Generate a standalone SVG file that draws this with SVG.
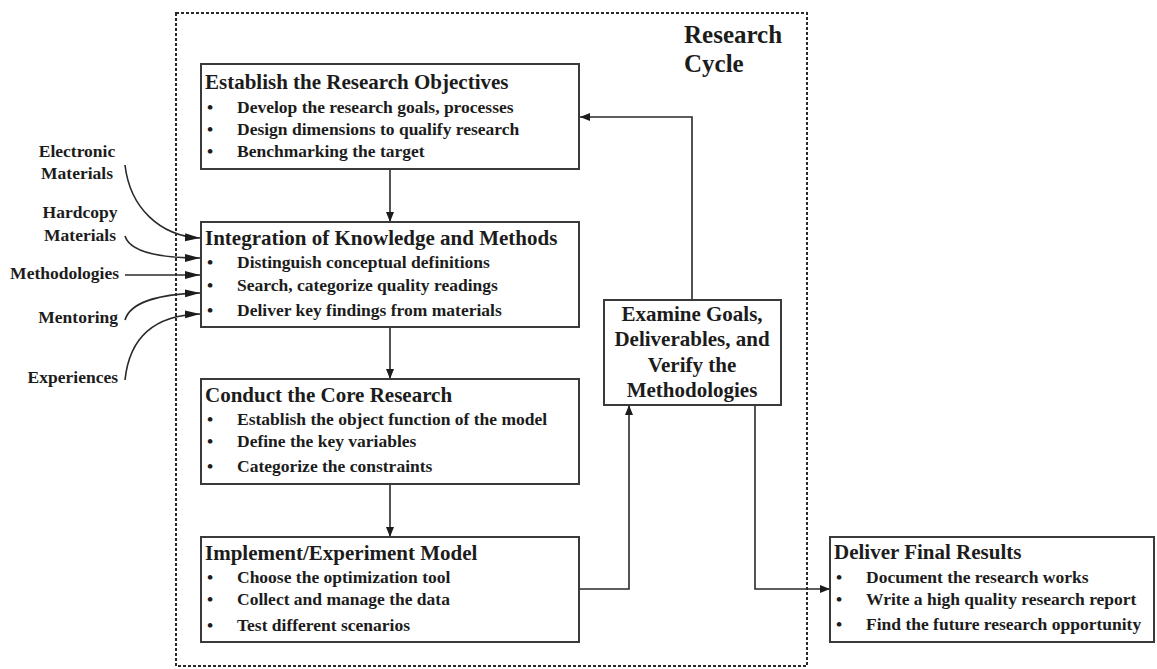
<svg xmlns="http://www.w3.org/2000/svg" width="1157" height="669" viewBox="0 0 1157 669">
  <style>
    .box { fill: #ffffff; stroke: #3a3a3a; stroke-width: 2; }
    .frame { fill: none; stroke: #2a2a2a; stroke-width: 2; stroke-dasharray: 3 2; }
    .wire { fill: none; stroke: #2a2a2a; stroke-width: 1.6; }
    text { font-family: "Liberation Serif", "Times New Roman", serif; font-weight: bold; fill: #1c1c1c; }
    .title { font-size: 21px; }
    .item { font-size: 17.5px; }
    .label { font-size: 17.5px; }
    .cycle { font-size: 25px; }
    .mid { font-size: 21px; text-anchor: middle; }
  </style>
  <defs>
    <marker id="head" markerUnits="userSpaceOnUse" markerWidth="12" markerHeight="10" refX="10" refY="4" orient="auto">
      <path d="M0,0 L10,4 L0,8 z" fill="#1c1c1c"/>
    </marker>
    <marker id="inlet" markerUnits="userSpaceOnUse" markerWidth="16" markerHeight="10" refX="15" refY="4" orient="auto">
      <path d="M0,0 L15,4 L0,8 z" fill="#1c1c1c"/>
    </marker>
  </defs>

  <rect width="1157" height="669" fill="#ffffff"/>

  <!-- research cycle frame -->
  <g id="research-cycle">
    <rect class="frame" x="176" y="13" width="631" height="653"/>
    <text class="cycle" x="684" y="43">Research</text>
    <text class="cycle" x="684" y="72">Cycle</text>
  </g>

  <!-- connectors -->
  <g id="connectors">
    <path class="wire" d="M390,169 L390,222" marker-end="url(#head)"/>
    <path class="wire" d="M390,327 L390,379" marker-end="url(#head)"/>
    <path class="wire" d="M390,484 L390,537" marker-end="url(#head)"/>
    <path class="wire" d="M579,589 L629,589 L629,405" marker-end="url(#head)"/>
    <path class="wire" d="M692,300 L692,117 L580,117" marker-end="url(#head)"/>
    <path class="wire" d="M755,405 L755,589 L830,589" marker-end="url(#head)"/>
    <!-- inputs feeding the integration step -->
    <path class="wire" d="M125,165 C130,208 160,236 200,238" marker-end="url(#inlet)"/>
    <path class="wire" d="M125,236 C130,252 160,258 200,258" marker-end="url(#inlet)"/>
    <path class="wire" d="M125,275 L200,275" marker-end="url(#inlet)"/>
    <path class="wire" d="M125,320 C130,302 160,294 200,293" marker-end="url(#inlet)"/>
    <path class="wire" d="M125,380 C130,332 160,315 200,314" marker-end="url(#inlet)"/>
  </g>

  <!-- input labels -->
  <g id="input-electronic">
    <text class="label" x="77" y="157" text-anchor="middle">Electronic</text>
    <text class="label" x="77" y="179" text-anchor="middle">Materials</text>
  </g>
  <g id="input-hardcopy">
    <text class="label" x="80" y="218" text-anchor="middle">Hardcopy</text>
    <text class="label" x="80" y="241" text-anchor="middle">Materials</text>
  </g>
  <g id="input-methodologies">
    <text class="label" x="119" y="279" text-anchor="end">Methodologies</text>
  </g>
  <g id="input-mentoring">
    <text class="label" x="118" y="323" text-anchor="end">Mentoring</text>
  </g>
  <g id="input-experiences">
    <text class="label" x="118" y="383" text-anchor="end">Experiences</text>
  </g>

  <!-- process steps -->
  <g id="establish-objectives">
    <rect class="box" x="201" y="64" width="378" height="105"/>
    <text class="title" x="205" y="89">Establish the Research Objectives</text>
    <text class="item" x="207" y="113">•</text>
    <text class="item" x="237" y="113">Develop the research goals, processes</text>
    <text class="item" x="207" y="135">•</text>
    <text class="item" x="237" y="135">Design dimensions to qualify research</text>
    <text class="item" x="207" y="157">•</text>
    <text class="item" x="237" y="157">Benchmarking the target</text>
  </g>

  <g id="integration">
    <rect class="box" x="201" y="222" width="378" height="105"/>
    <text class="title" x="205" y="245">Integration of Knowledge and Methods</text>
    <text class="item" x="207" y="268">•</text>
    <text class="item" x="237" y="268">Distinguish conceptual definitions</text>
    <text class="item" x="207" y="291">•</text>
    <text class="item" x="237" y="291">Search, categorize quality readings</text>
    <text class="item" x="207" y="316">•</text>
    <text class="item" x="237" y="316">Deliver key findings from materials</text>
  </g>

  <g id="core-research">
    <rect class="box" x="201" y="379" width="378" height="105"/>
    <text class="title" x="205" y="402">Conduct the Core Research</text>
    <text class="item" x="207" y="425">•</text>
    <text class="item" x="237" y="425">Establish the object function of the model</text>
    <text class="item" x="207" y="447">•</text>
    <text class="item" x="237" y="447">Define the key variables</text>
    <text class="item" x="207" y="472">•</text>
    <text class="item" x="237" y="472">Categorize the constraints</text>
  </g>

  <g id="implement-model">
    <rect class="box" x="201" y="537" width="378" height="105"/>
    <text class="title" x="205" y="560">Implement/Experiment Model</text>
    <text class="item" x="207" y="583">•</text>
    <text class="item" x="237" y="583">Choose the optimization tool</text>
    <text class="item" x="207" y="605">•</text>
    <text class="item" x="237" y="605">Collect and manage the data</text>
    <text class="item" x="207" y="631">•</text>
    <text class="item" x="237" y="631">Test different scenarios</text>
  </g>

  <g id="examine-verify">
    <rect class="box" x="604" y="300" width="177" height="105"/>
    <text class="mid" x="692" y="321">Examine Goals,</text>
    <text class="mid" x="692" y="346">Deliverables, and</text>
    <text class="mid" x="692" y="372">Verify the</text>
    <text class="mid" x="692" y="397">Methodologies</text>
  </g>

  <g id="deliver-results">
    <rect class="box" x="830" y="537" width="324" height="105"/>
    <text class="title" x="834" y="559">Deliver Final Results</text>
    <text class="item" x="836" y="583">•</text>
    <text class="item" x="866" y="583">Document the research works</text>
    <text class="item" x="836" y="605">•</text>
    <text class="item" x="866" y="605">Write a high quality research report</text>
    <text class="item" x="836" y="630">•</text>
    <text class="item" x="866" y="630">Find the future research opportunity</text>
  </g>
</svg>
